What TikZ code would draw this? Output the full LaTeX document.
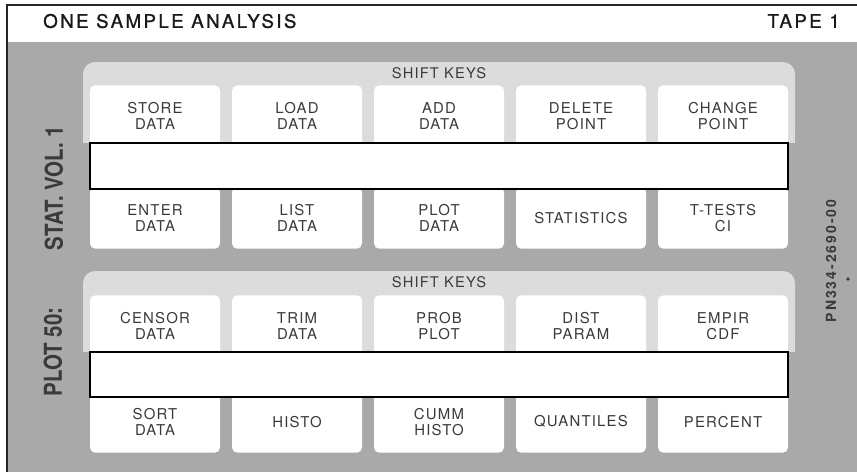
\documentclass[tikz,border=0pt]{standalone}
\usepackage{fontspec}
\setmainfont{TeX Gyre Heros}
\newfontfamily\keyfont[LetterSpace=8]{TeX Gyre Heros}
\newfontfamily\headfont[LetterSpace=13,FakeBold=1.2]{TeX Gyre Heros}
\newfontfamily\pnfont[LetterSpace=14]{TeX Gyre Heros}
\usepackage{graphicx}
\usepackage{tikz}

\definecolor{tapegray}{HTML}{A9A9A9}
\definecolor{panelgray}{HTML}{DCDCDC}
\definecolor{ink}{HTML}{3A3A3A}

\begin{document}
\begin{tikzpicture}[x=0.75pt, y=-0.75pt,
  key/.style={fill=white, rounded corners=4pt, minimum width=97.5pt, minimum height=46.5pt, align=center, inner sep=0pt, text=ink, font=\keyfont\fontsize{11.2}{12.2}\selectfont},
  bar/.style={draw=black, line width=1.5pt, fill=white, minimum width=523.5pt, minimum height=34pt, inner sep=0pt},
  shk/.style={inner sep=0pt, text=ink, font=\keyfont\fontsize{11}{12}\selectfont},
  side/.style={rotate=90, inner sep=0pt, text=ink, font=\bfseries\fontsize{18.5}{20}\selectfont},
  head/.style={inner sep=0pt, text=black!90, font=\headfont\fontsize{14}{15}\selectfont},
  pnl/.style={fill=panelgray}
]
\useasboundingbox (0,0) rectangle (857,472);
% card background and frame
\fill[tapegray] (7,42) rectangle (857,472);
\draw[line width=1.5pt, black!85] (7,472) -- (7,5) -- (857,5);
\node[head, anchor=west] (title) at (43,21) {ONE SAMPLE ANALYSIS};
\node[head, anchor=east] (tape) at (840,21) {TAPE 1};
% shift panels
\fill[pnl, rounded corners=9pt] (83,62) rectangle (795,143);
\fill[pnl] (83,110) rectangle (795,143);
\fill[pnl, rounded corners=9pt] (83,271) rectangle (795,352);
\fill[pnl] (83,320) rectangle (795,352);
\node[shk] (shift1) at (439,73) {SHIFT KEYS};
\node[shk] (shift2) at (439,282) {SHIFT KEYS};
% upper tape: shifted keys
\node[key, anchor=north] (store) at (155,85) {STORE\\DATA};
\node[key, anchor=north] (load) at (297,85) {LOAD\\DATA};
\node[key, anchor=north] (add) at (439,85) {ADD\\DATA};
\node[key, anchor=north] (delete) at (581,85) {DELETE\\POINT};
\node[key, anchor=north] (change) at (723,85) {CHANGE\\POINT};
% upper tape: plain keys
\node[key, anchor=south] (enter) at (155,249) {ENTER\\DATA};
\node[key, anchor=south] (list) at (297,249) {LIST\\DATA};
\node[key, anchor=south] (plot) at (439,249) {PLOT\\DATA};
\node[key, anchor=south] (stats) at (581,249) {STATISTICS};
\node[key, anchor=south] (ttest) at (723,249) {T-TESTS\\CI};
\node[bar] (strip1) at (439,166) {};
% lower tape: shifted keys
\node[key, anchor=north] (censor) at (155,295) {CENSOR\\DATA};
\node[key, anchor=north] (trim) at (297,295) {TRIM\\DATA};
\node[key, anchor=north] (prob) at (439,295) {PROB\\PLOT};
\node[key, anchor=north] (dist) at (581,295) {DIST\\PARAM};
\node[key, anchor=north] (empir) at (723,295) {EMPIR\\CDF};
% lower tape: plain keys
\node[key, anchor=south] (sort) at (155,453) {SORT\\DATA};
\node[key, anchor=south] (histo) at (297,453) {HISTO};
\node[key, anchor=south] (cumm) at (439,453) {CUMM\\HISTO};
\node[key, anchor=south] (quant) at (581,453) {QUANTILES};
\node[key, anchor=south] (pct) at (723,453) {PERCENT};
\node[bar] (strip2) at (439,374.5) {};
% side labels
\node[side] (vol) at (54,188) {\scalebox{0.83}[1]{STAT. VOL. 1}};
\node[side] (plotfifty) at (53,352) {\scalebox{0.83}[1]{PLOT 50:}};
\node[rotate=90, inner sep=0pt, text=ink, font=\pnfont\bfseries\fontsize{10.5}{12}\selectfont] (pn) at (831,261) {PN334-2690-00};
\fill[ink] (848,279) circle (1.4pt);
\end{tikzpicture}
\end{document}
